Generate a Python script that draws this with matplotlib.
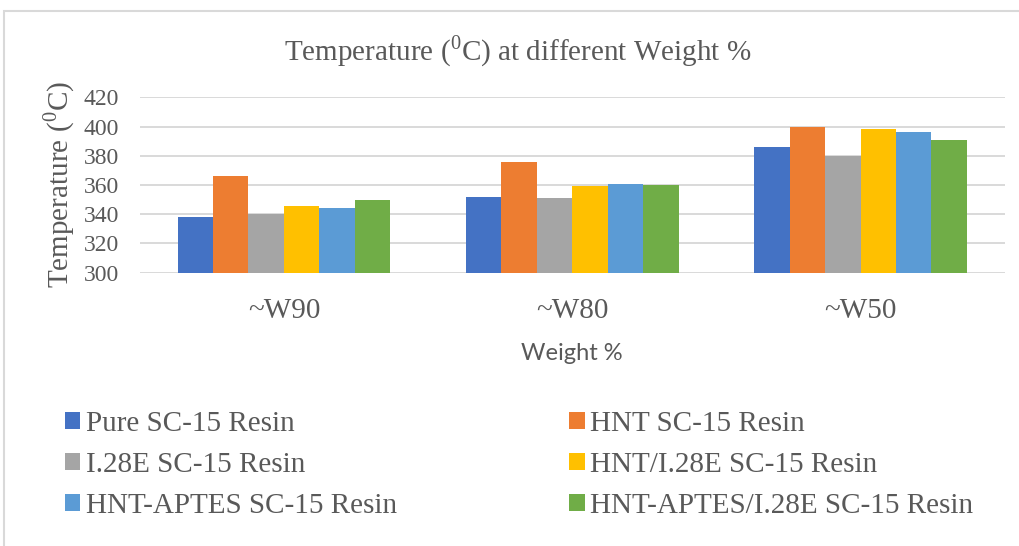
import numpy as np
import matplotlib.pyplot as plt
from matplotlib.patches import Rectangle

plt.rcParams['font.family'] = 'Liberation Serif'
plt.rcParams['mathtext.fontset'] = 'custom'
plt.rcParams['mathtext.rm'] = 'Liberation Serif'

# decomposition temperature per resin, by weight % retained
categories = ['~W90', '~W80', '~W50']
series = ['Pure SC-15 Resin', 'HNT SC-15 Resin', 'I.28E SC-15 Resin',
          'HNT/I.28E SC-15 Resin', 'HNT-APTES SC-15 Resin', 'HNT-APTES/I.28E SC-15 Resin']
pure = [338, 352, 386]
hnt = [366, 375.5, 400]
i28e = [340, 351, 380]
hnt_i28e = [345.5, 359, 398]
hnt_aptes = [344, 360.5, 396]
hnt_aptes_i28e = [350, 360, 391]
values = [pure, hnt, i28e, hnt_i28e, hnt_aptes, hnt_aptes_i28e]
colors = ['#4472c4', '#ed7d31', '#a5a5a5', '#ffc000', '#5b9bd5', '#70ad47']

txt = '#595959'
grid = '#d9d9d9'

fig = plt.figure(figsize=(10.2, 5.46), dpi=100)
ax = fig.add_axes([0.137, 0.5005, 0.848, 0.3213])

x = np.arange(len(categories))
w = 0.123
bars = []
for i, (vals, c) in enumerate(zip(values, colors)):
    b = ax.bar(x + (i - 2.5) * w, np.array(vals) - 300, width=w, bottom=300,
               color=c, label=series[i], zorder=3)
    bars.append(b)

ax.set_xlim(-0.5, 2.5)
ax.set_ylim(300, 420)
ax.set_yticks(range(300, 421, 20))
ax.set_xticks(x)
ax.set_xticklabels(categories, fontsize=21, color=txt)
ax.tick_params(axis='y', labelsize=17, labelcolor=txt, length=0, pad=15)
ax.tick_params(axis='x', length=0, pad=18)
ax.yaxis.grid(True, color=grid, linewidth=1.4, zorder=0)
for s in ax.spines.values():
    s.set_visible(False)

ax.set_ylabel(r'Temperature ($^{\mathrm{0}}$C)', fontsize=21, color=txt, labelpad=5)
ax.set_xlabel('Weight %', fontsize=17, color=txt, family='Lato', labelpad=14)

fig.text(0.508, 0.906, r'Temperature ($^{\mathrm{0}}$C) at different Weight %',
         fontsize=21, color=txt, ha='center', va='center')

# legend laid out row-wise over two columns
order = [0, 2, 4, 1, 3, 5]
leg = fig.legend([bars[i] for i in order], [series[i] for i in order],
                 ncol=2, loc='upper left', bbox_to_anchor=(0.064, 0.248),
                 frameon=False, fontsize=21, handlelength=0.52, handleheight=0.52,
                 handletextpad=0.2, columnspacing=5.9, labelspacing=0.52,
                 borderaxespad=0, borderpad=0)
for t in leg.get_texts():
    t.set_color(txt)

# outer chart frame
fig.patches.append(Rectangle((4 / 1020, -0.5), 2, 0.5 + (546 - 11) / 546,
                             transform=fig.transFigure, fill=False,
                             edgecolor=grid, linewidth=1.5))

fig.savefig('out.png', dpi=100)
